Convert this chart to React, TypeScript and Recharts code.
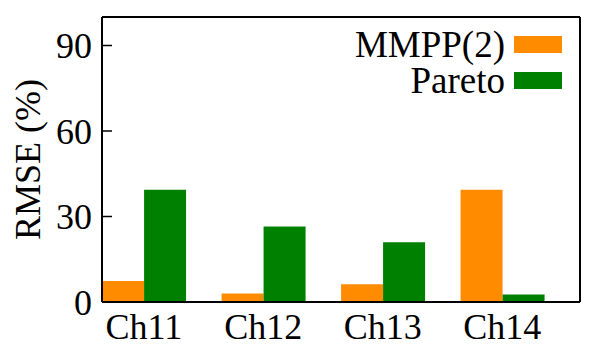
import React from 'react';
import { BarChart, Bar, XAxis, YAxis } from 'recharts';

const CHANNELS = ['Ch11', 'Ch12', 'Ch13', 'Ch14'];
const MMPP = [7.4, 3.0, 6.2, 39.4];
const PARETO = [39.4, 26.5, 21.0, 2.6];
const Y_TICKS = [0, 30, 60, 90];

const FONT = '"Liberation Serif", "Times New Roman", serif';
const ORANGE = '#ff8c00';
const GREEN = '#008000';

const W = 598;
const H = 359;
const MARGIN = { top: 16, right: 17, bottom: 17, left: 42 };
const Y_AXIS_W = 60;
const PLOT_LEFT = MARGIN.left + Y_AXIS_W;
const PLOT_RIGHT = W - MARGIN.right - 1;

const data = CHANNELS.map((name, i) => ({ pos: i, name, mmpp: MMPP[i], pareto: PARETO[i] }));

const SERIES = [
  { label: 'MMPP(2)', color: ORANGE },
  { label: 'Pareto', color: GREEN },
];

// inward tick mark plus label to the left (gnuplot style)
const LeftTick = (props: any) => {
  const { y, payload } = props;
  return (
    <g>
      <line x1={PLOT_LEFT} x2={PLOT_LEFT + 10} y1={y} y2={y} stroke="#000" strokeWidth={1.5} />
      <text x={PLOT_LEFT - 10} y={y} dy="0.355em" textAnchor="end" fill="#000" fontFamily={FONT} fontSize={36}>
        {payload.value}
      </text>
    </g>
  );
};

const RightTick = (props: any) => {
  const { y } = props;
  return <line x1={PLOT_RIGHT - 10} x2={PLOT_RIGHT} y1={y} y2={y} stroke="#000" strokeWidth={1.5} />;
};

export default function App() {
  return (
    <div style={{ position: 'absolute', left: 0, top: 0, width: W, height: H, background: '#fff' }}>
      <BarChart width={W} height={H} data={data} margin={MARGIN} barGap={0}>
        <XAxis
          dataKey="pos"
          type="number"
          domain={[-0.35, 3.65]}
          ticks={[0, 1, 2, 3]}
          tickFormatter={(v: number) => CHANNELS[v]}
          height={40}
          tickLine={false}
          tickSize={0}
          tickMargin={11}
          axisLine={{ stroke: '#000', strokeWidth: 2 }}
          tick={{ fill: '#000', fontFamily: FONT, fontSize: 36 }}
        />
        <XAxis
          xAxisId="top"
          orientation="top"
          dataKey="pos"
          type="number"
          domain={[-0.35, 3.65]}
          height={1}
          tick={false}
          tickLine={false}
          axisLine={{ stroke: '#000', strokeWidth: 2 }}
        />
        <YAxis
          domain={[0, 100]}
          ticks={Y_TICKS}
          width={Y_AXIS_W}
          tickLine={false}
          axisLine={{ stroke: '#000', strokeWidth: 2 }}
          tick={<LeftTick />}
          label={{
            value: 'RMSE (%)',
            angle: -90,
            position: 'insideLeft',
            dx: -20,
            fill: '#000',
            style: { fontFamily: FONT, fontSize: 36, textAnchor: 'middle' },
          }}
        />
        <YAxis
          yAxisId="right"
          orientation="right"
          domain={[0, 100]}
          ticks={Y_TICKS}
          width={1}
          tickLine={false}
          tick={<RightTick />}
          axisLine={{ stroke: '#000', strokeWidth: 2 }}
        />
        <Bar dataKey="mmpp" name="MMPP(2)" fill={ORANGE} barSize={42} isAnimationActive={false} />
        <Bar dataKey="pareto" name="Pareto" fill={GREEN} barSize={42} isAnimationActive={false} />
      </BarChart>
      <div
        style={{
          position: 'absolute',
          top: 27,
          right: 36,
          fontFamily: FONT,
          fontSize: 37,
          color: '#000',
          lineHeight: '35px',
        }}
      >
        {SERIES.map((s) => (
          <div key={s.label} style={{ display: 'flex', alignItems: 'center', justifyContent: 'flex-end', height: 35.5 }}>
            <span style={{ display: 'inline-block', height: 35, overflow: 'visible' }}>{s.label}</span>
            <span style={{ display: 'inline-block', width: 48, height: 17, background: s.color, marginLeft: 9 }} />
          </div>
        ))}
      </div>
    </div>
  );
}
